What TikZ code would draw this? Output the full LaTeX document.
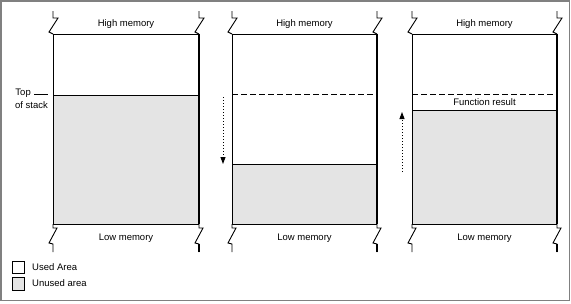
\documentclass[tikz,border=0pt]{standalone}
\usepackage{fontspec}
\setmainfont{Liberation Sans}
\usetikzlibrary{arrows.meta}
\definecolor{unused}{HTML}{E4E4E4}
\definecolor{framegray}{HTML}{808080}
\begin{document}
\begin{tikzpicture}[x=1pt,y=-1pt,
  lbl/.style={font=\fontsize{9.5}{11}\selectfont, inner sep=0pt},
  edge/.style={line width=0.9pt},
  thickedge/.style={line width=2pt},
  brk/.style={line width=0.9pt, line join=miter},
  dashln/.style={line width=0.9pt, dash pattern=on 6pt off 3pt},
  movearrow/.style={line width=0.9pt, dash pattern=on 1pt off 2pt, -{Triangle[length=7pt,width=5pt]}}]
\useasboundingbox (0,0) rectangle (571,303);
\draw[framegray, line width=1.8pt] (1,1) rectangle (569.5,300.5);

% break marks
\foreach \x in {53,199,232,377,412,557}{
  \draw[brk] (\x,11) -- (\x,18) -- (\x+5,18) -- (\x-4,32) -- (\x,34);
  \draw[brk] (\x,224) -- (\x,228) -- (\x+4,228) -- (\x-4,243) -- (\x,244) -- (\x,252);
}

% Panel 1
\fill[unused] (53,95) rectangle (199,224);
\draw[edge] (53,34) -- (199,34);
\draw[edge] (53,34) -- (53,224) -- (199,224);
\draw[edge] (53,95) -- (199,95);
\draw[thickedge] (199,34) -- (199,224);
\draw[thickedge] (199,244) -- (199,252);
\node[lbl] (hm1) at (126,24) {High memory};
\node[lbl] (lm1) at (126,238) {Low memory};
\node[lbl, anchor=east] (top) at (31,93) {Top};
\coordinate (topa) at (34,94);
\coordinate (topb) at (48,94);
\draw[line width=0.9pt] (topa) -- (topb);
\node[lbl, anchor=east] (ofs) at (48,105) {of stack};

% Panel 2
\fill[unused] (232,164) rectangle (377,224);
\draw[edge] (232,34) -- (377,34);
\draw[edge] (232,34) -- (232,224) -- (377,224);
\draw[dashln] (232,94) -- (377,94);
\draw[edge] (232,164) -- (377,164);
\draw[thickedge] (377,34) -- (377,224);
\draw[thickedge] (377,244) -- (377,252);
\node[lbl] (hm2) at (304.5,24) {High memory};
\node[lbl] (lm2) at (304.5,238) {Low memory};
\coordinate (a2s) at (223,97);
\coordinate (a2e) at (223,164);
\draw[movearrow] (a2s) -- (a2e);

% Panel 3
\fill[unused] (412,110) rectangle (557,224);
\draw[edge] (412,34) -- (557,34);
\draw[edge] (412,34) -- (412,224) -- (557,224);
\draw[dashln] (412,94) -- (557,94);
\draw[edge] (412,110) -- (557,110);
\draw[thickedge] (557,34) -- (557,224);
\draw[thickedge] (557,244) -- (557,252);
\node[lbl] (hm3) at (484.5,24) {High memory};
\node[lbl] (lm3) at (484.5,238) {Low memory};
\node[lbl] (fr) at (484.5,102) {Function result};
\coordinate (a3s) at (402,172);
\coordinate (a3e) at (402,112);
\draw[movearrow] (a3s) -- (a3e);

% Legend
\draw[line width=0.9pt, fill=white] (12,261) rectangle (24,273);
\draw[line width=0.9pt, fill=unused] (12,277) rectangle (24,290);
\node[lbl, anchor=west] (used) at (32,267) {Used Area};
\node[lbl, anchor=west] (unusedl) at (32,283.5) {Unused area};
\end{tikzpicture}
\end{document}
